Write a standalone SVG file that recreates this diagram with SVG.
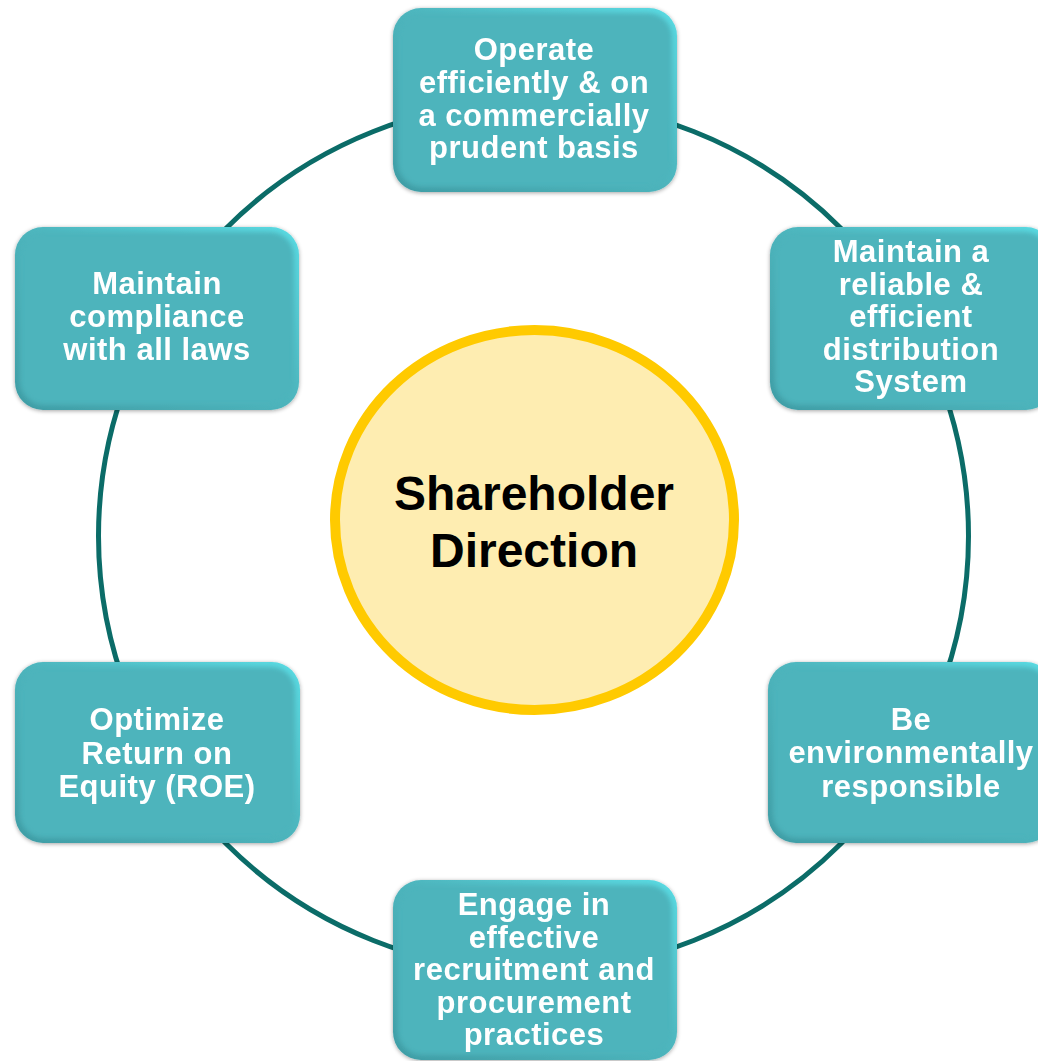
<svg xmlns="http://www.w3.org/2000/svg" width="1038" height="1061" viewBox="0 0 1038 1061">
  <defs>
    <linearGradient id="bevel" x1="0" y1="1" x2="1" y2="0">
      <stop offset="0" stop-color="#3E9CA4"/>
      <stop offset="0.5" stop-color="#4DB4BC"/>
      <stop offset="1" stop-color="#5ADCE4"/>
    </linearGradient>
    <filter id="soft" x="-10%" y="-10%" width="120%" height="120%">
      <feGaussianBlur stdDeviation="2.5"/>
    </filter>
    <filter id="shadow" x="-10%" y="-10%" width="120%" height="120%">
      <feGaussianBlur in="SourceAlpha" stdDeviation="2"/>
      <feOffset dx="0" dy="1" result="b"/>
      <feComponentTransfer><feFuncA type="linear" slope="0.35"/></feComponentTransfer>
      <feMerge><feMergeNode/><feMergeNode in="SourceGraphic"/></feMerge>
    </filter>
  </defs>
  <style>
    .ring { fill: none; stroke: #0B6C68; stroke-width: 5; }
    .outer { fill: url(#bevel); }
    .inner { fill: #4DB4BC; filter: url(#soft); }
    .lbl { font-family: "Liberation Sans", Arial, sans-serif; font-weight: bold; font-size: 31px; letter-spacing: 0.5px; fill: #FFFFFF; text-anchor: middle; }
    .center { font-family: "Liberation Sans", Arial, sans-serif; font-weight: bold; font-size: 48px; fill: #000000; text-anchor: middle; }
  </style>

  <g id="connectors">
    <circle class="ring" cx="533.5" cy="536" r="435"/>
  </g>

  <g id="center-node">
    <ellipse cx="534.5" cy="520" rx="199.5" ry="190" fill="#FEEDB1" stroke="#FFCA00" stroke-width="10"/>
    <text class="center" x="534" y="510">Shareholder</text>
    <text class="center" x="534" y="567">Direction</text>
  </g>

  <g id="node-top" filter="url(#shadow)">
    <rect class="outer" x="393" y="8" width="284" height="184" rx="28"/>
    <rect class="inner" x="398" y="13" width="274" height="174" rx="24"/>
    <text class="lbl" x="534" y="60">Operate</text>
    <text class="lbl" x="534" y="93">efficiently &amp; on</text>
    <text class="lbl" x="534" y="126">a commercially</text>
    <text class="lbl" x="534" y="158">prudent basis</text>
  </g>

  <g id="node-top-right" filter="url(#shadow)">
    <rect class="outer" x="770" y="227" width="284" height="183" rx="28"/>
    <rect class="inner" x="775" y="232" width="274" height="173" rx="24"/>
    <text class="lbl" x="911" y="262">Maintain a</text>
    <text class="lbl" x="911" y="295">reliable &amp;</text>
    <text class="lbl" x="911" y="327">efficient</text>
    <text class="lbl" x="911" y="360">distribution</text>
    <text class="lbl" x="911" y="392">System</text>
  </g>

  <g id="node-top-left" filter="url(#shadow)">
    <rect class="outer" x="15" y="227" width="284" height="183" rx="28"/>
    <rect class="inner" x="20" y="232" width="274" height="173" rx="24"/>
    <text class="lbl" x="157" y="294">Maintain</text>
    <text class="lbl" x="157" y="327">compliance</text>
    <text class="lbl" x="157" y="360">with all laws</text>
  </g>

  <g id="node-bottom-left" filter="url(#shadow)">
    <rect class="outer" x="15" y="662" width="285" height="181" rx="28"/>
    <rect class="inner" x="20" y="667" width="275" height="171" rx="24"/>
    <text class="lbl" x="157" y="730">Optimize</text>
    <text class="lbl" x="157" y="764">Return on</text>
    <text class="lbl" x="157" y="797">Equity (ROE)</text>
  </g>

  <g id="node-bottom-right" filter="url(#shadow)">
    <rect class="outer" x="768" y="662" width="286" height="181" rx="28"/>
    <rect class="inner" x="773" y="667" width="276" height="171" rx="24"/>
    <text class="lbl" x="911" y="730">Be</text>
    <text class="lbl" x="911" y="763">environmentally</text>
    <text class="lbl" x="911" y="797">responsible</text>
  </g>

  <g id="node-bottom" filter="url(#shadow)">
    <rect class="outer" x="393" y="880" width="284" height="180" rx="28"/>
    <rect class="inner" x="398" y="885" width="274" height="170" rx="24"/>
    <text class="lbl" x="534" y="915">Engage in</text>
    <text class="lbl" x="534" y="948">effective</text>
    <text class="lbl" x="534" y="980">recruitment and</text>
    <text class="lbl" x="534" y="1013">procurement</text>
    <text class="lbl" x="534" y="1045">practices</text>
  </g>
</svg>
